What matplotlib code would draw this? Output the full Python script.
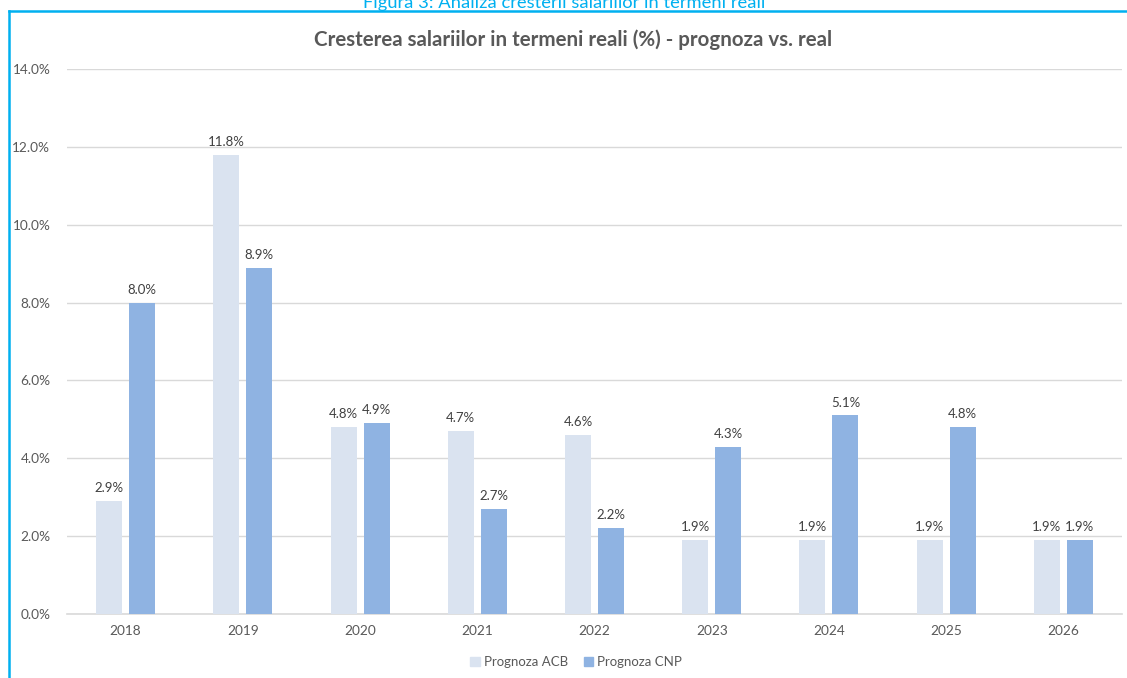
import matplotlib
matplotlib.use("Agg")
import matplotlib.pyplot as plt
from matplotlib.lines import Line2D
from matplotlib.patches import Patch
import numpy as np

plt.rcParams['font.family'] = ['Lato', 'DejaVu Sans']

years = ["2018", "2019", "2020", "2021", "2022", "2023", "2024", "2025", "2026"]
acb = [2.9, 11.8, 4.8, 4.7, 4.6, 1.9, 1.9, 1.9, 1.9]
cnp = [8.0, 8.9, 4.9, 2.7, 2.2, 4.3, 5.1, 4.8, 1.9]
series_names = ["Prognoza ACB", "Prognoza CNP"]
y_ticks = [0, 2, 4, 6, 8, 10, 12, 14]

c_acb = "#dae3f0"
c_cnp = "#8fb3e2"
text_c = "#595959"

W, H = 1127, 678
fig = plt.figure(figsize=(W / 100, H / 100), dpi=100)
ax = fig.add_axes([67 / W, 1 - 614 / H, (1122 - 67) / W, (614 - 69) / H])

x = np.arange(len(years))
bw = 0.222
off = 0.141
b1 = ax.bar(x - off, acb, bw, color=c_acb, zorder=3)
b2 = ax.bar(x + off, cnp, bw, color=c_cnp, zorder=3)

for bars, vals in ((b1, acb), (b2, cnp)):
    for r, v in zip(bars, vals):
        ax.annotate(f"{v:.1f}%", (r.get_x() + r.get_width() / 2, v),
                    xytext=(0, 5), textcoords="offset points",
                    ha="center", va="bottom", fontsize=9.5, color="#404040")

ax.set_xlim(-0.5, len(years) - 0.5)
ax.set_ylim(0, 14)
ax.set_yticks(y_ticks)
ax.set_yticklabels([f"{t:.1f}%" for t in y_ticks])
ax.set_xticks(x)
ax.set_xticklabels(years)
ax.tick_params(axis="both", length=0, labelsize=9.8, colors=text_c)
ax.tick_params(axis="y", pad=12)
ax.tick_params(axis="x", pad=8)
ax.grid(axis="y", color="#d9d9d9", linewidth=1, zorder=0)
for s in ("top", "right", "left"):
    ax.spines[s].set_visible(False)
ax.spines["bottom"].set_color("#d9d9d9")
ax.spines["bottom"].set_linewidth(1.2)

fig.text(573 / W, 1 - 40 / H, "Cresterea salariilor in termeni reali (%) - prognoza vs. real",
         ha="center", va="center", fontsize=14.8, fontweight="bold", color=text_c)

# caption sitting above the frame, running off the top edge
fig.text(564 / W, 1 - 8 / H, "Figura 3: Analiza cresterii salariilor in termeni reali",
         ha="center", va="baseline", fontsize=13.2, color="#00b0f0")

# frame
fig.add_artist(Line2D([9 / W, 1.0], [1 - 11 / H, 1 - 11 / H], color="#00b0f0",
                      linewidth=1.8, transform=fig.transFigure))
fig.add_artist(Line2D([9 / W, 9 / W], [1 - 11 / H, 0], color="#00b0f0",
                      linewidth=1.8, transform=fig.transFigure))

handles = [Patch(color=c_acb), Patch(color=c_cnp)]
fig.legend(handles, series_names, loc="center", bbox_to_anchor=(576 / W, 1 - 662 / H),
           ncol=2, frameon=False, fontsize=9.5, labelcolor=text_c,
           handlelength=0.7, handleheight=0.7, handletextpad=0.3, columnspacing=1.2)

fig.savefig("out.png", dpi=100, facecolor="white")
